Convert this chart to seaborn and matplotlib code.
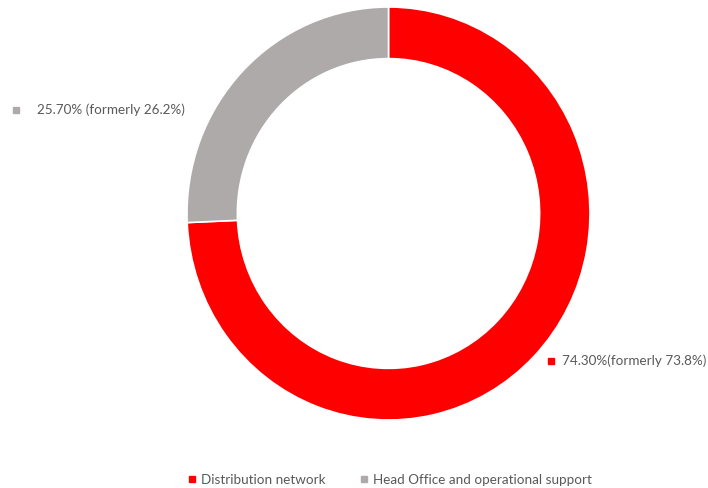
import matplotlib
matplotlib.use("Agg")
import matplotlib.pyplot as plt
from matplotlib.lines import Line2D
import seaborn as sns

# Workforce split by business area
categories = ["Distribution network", "Head Office and operational support"]
shares = [74.30, 25.70]
former_shares = [73.8, 26.2]
slice_labels = ["74.30%(formerly 73.8%)", "25.70% (formerly 26.2%)"]
colors = ["#FF0000", "#AEAAAA"]

sns.set_theme(style="white")
plt.rcParams["font.family"] = ["Lato", "DejaVu Sans"]
text_color = "#595959"
fsize = 9.7

W, H = 708, 488
fig = plt.figure(figsize=(W / 100, H / 100), dpi=100)


def fx(px):
    return px / W


def fy(py):
    return 1 - py / H


# ring: outer box from (187, 7) to (590, 420) in pixels
ax = fig.add_axes([fx(187), fy(420), fx(590) - fx(187), (420 - 7) / H])
wedges, _ = ax.pie(
    shares,
    colors=colors,
    startangle=90,
    counterclock=False,
    radius=1.0,
    wedgeprops=dict(width=0.25, edgecolor="white", linewidth=1.2),
)
ax.set_xlim(-1, 1)
ax.set_ylim(-1, 1)
ax.set_aspect("auto")
ax.axis("off")

# slice labels with small colour keys
label_pos = {0: (548, 361), 1: (13, 110)}
text_offset = {0: 14, 1: 24}
for i, lab in enumerate(slice_labels):
    x, y = label_pos[i]
    fig.add_artist(Line2D([fx(x + 3)], [fy(y)], marker="s", markersize=4.5,
                          color=colors[i], linestyle="none",
                          transform=fig.transFigure))
    fig.text(fx(x + text_offset[i]), fy(y), lab, fontsize=fsize,
             color=text_color, va="center", ha="left")

# legend along the bottom
handles = [Line2D([0], [0], marker="s", markersize=5, color=c, linestyle="none")
           for c in colors]
fig.legend(handles, categories, loc="center", ncol=2,
           bbox_to_anchor=(fx(390), fy(480)), frameon=False,
           fontsize=fsize, labelcolor=text_color, handlelength=0.6,
           handletextpad=0.35, columnspacing=2.6)

fig.savefig("out.png", dpi=100, facecolor="white")
